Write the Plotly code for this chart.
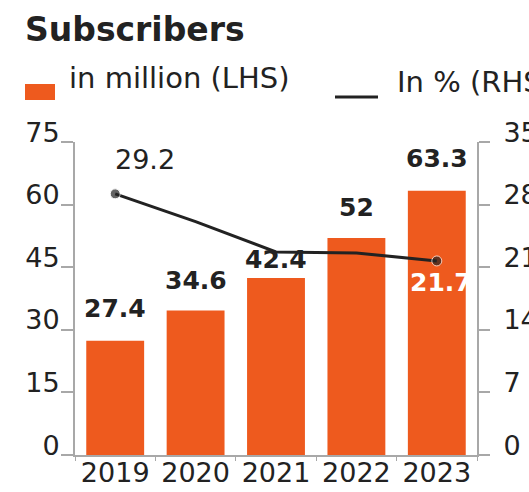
import plotly.graph_objects as go

# Subscriber data
years = ["2019", "2020", "2021", "2022", "2023"]
subscribers_mn = [27.4, 34.6, 42.4, 52, 63.3]
share_pct = [29.2, 26.1, 22.7, 22.6, 21.7]

left_ticks = [0, 15, 30, 45, 60, 75]
right_ticks = [0, 7, 14, 21, 28, 35]

ORANGE = "#EE5A1E"
DARK = "#222222"
AXIS = "#A8A8A8"
FONT = "DejaVu Sans"

# vertical offset (px) of each bar value label above its bar
bar_label_shift = [16, 14, 2, 14, 16]

W, H = 529, 492
L, R, T, B = 75, 52, 142, 37
pw, ph = W - L - R, H - T - B


def px_x(px):
    return (px - L) / pw


def px_y(py):
    return (H - B - py) / ph


fig = go.Figure()

fig.add_trace(go.Bar(
    x=years, y=subscribers_mn, name="in million (LHS)",
    marker=dict(color=ORANGE, line=dict(width=0)),
    yaxis="y", showlegend=False,
))

fig.add_trace(go.Scatter(
    x=years, y=share_pct, name="In % (RHS)", yaxis="y2",
    mode="lines+markers",
    line=dict(color=DARK, width=3),
    marker=dict(color=DARK, size=[10, 0, 0, 0, 10]),
    showlegend=False,
))

annotations = []
# category positions are given by index so the labels sit on their bars
for i, (v, s) in enumerate(zip(subscribers_mn, bar_label_shift)):
    annotations.append(dict(
        x=i, y=v, xref="x", yref="y", text=f"<b>{v:g}</b>",
        showarrow=False, yanchor="bottom", yshift=s,
        font=dict(family=FONT, size=25, color=DARK),
    ))

# first and last percentage labels
last = len(years) - 1
annotations.append(dict(
    x=0, y=share_pct[0], xref="x", yref="y2", text=f"{share_pct[0]:g}",
    showarrow=False, xshift=30, yshift=34,
    font=dict(family=FONT, size=27, color=DARK),
))
annotations.append(dict(
    x=last, y=share_pct[last], xref="x", yref="y2", text=f"<b>{share_pct[last]:g}</b>",
    showarrow=False, xshift=4, yshift=-22,
    font=dict(family=FONT, size=25, color="white"),
))

# legend texts
annotations.append(dict(
    x=px_x(67), y=px_y(78), xref="paper", yref="paper", text="in million (LHS)",
    showarrow=False, xanchor="left", yanchor="middle",
    font=dict(family=FONT, size=29, color=DARK),
))
annotations.append(dict(
    x=px_x(395), y=px_y(82), xref="paper", yref="paper", text="In % (RHS)",
    showarrow=False, xanchor="left", yanchor="middle",
    font=dict(family=FONT, size=29, color=DARK),
))

shapes = [
    dict(type="rect", xref="paper", yref="paper",
         x0=px_x(25), x1=px_x(55), y0=px_y(100), y1=px_y(84),
         fillcolor=ORANGE, line=dict(width=0)),
    dict(type="line", xref="paper", yref="paper",
         x0=px_x(335), x1=px_x(378), y0=px_y(97), y1=px_y(97),
         line=dict(color=DARK, width=3)),
]

fig.update_layout(
    width=W, height=H,
    margin=dict(l=L, r=R, t=T, b=B, pad=0, autoexpand=False),
    paper_bgcolor="white", plot_bgcolor="white",
    bargap=0.28,
    title=dict(
        text="<b>Subscribers</b>", x=25 / W, xref="container", xanchor="left",
        y=1 - 18 / H, yref="container", yanchor="top",
        font=dict(family=FONT, size=33, color=DARK),
        automargin=False,
    ),
    xaxis=dict(
        type="category", categoryorder="array", categoryarray=years,
        range=[-0.5, len(years) - 0.5], automargin=False,
        showline=True, linecolor=AXIS, linewidth=2,
        tickson="boundaries", ticks="outside", ticklen=4, tickcolor=AXIS,
        ticklabelstandoff=-7,
        tickfont=dict(family=FONT, size=27, color=DARK),
        tickangle=0,
        showgrid=False, zeroline=False,
    ),
    yaxis=dict(
        range=[0, 75], tickvals=left_ticks, automargin=False,
        showline=True, linecolor=AXIS, linewidth=2,
        ticks="outside", ticklen=12, tickcolor=AXIS, tickwidth=2,
        ticklabelposition="outside top", ticklabelstandoff=8, ticklabelshift=10,
        tickfont=dict(family=FONT, size=27, color=DARK),
        showgrid=False, zeroline=False,
    ),
    yaxis2=dict(
        range=[0, 35], tickvals=right_ticks, overlaying="y", side="right",
        automargin=False,
        showline=True, linecolor=AXIS, linewidth=2,
        ticks="outside", ticklen=11, tickcolor=AXIS, tickwidth=2,
        ticklabelposition="outside top", ticklabelstandoff=19, ticklabelshift=10,
        tickfont=dict(family=FONT, size=27, color=DARK),
        showgrid=False, zeroline=False,
    ),
    annotations=annotations,
    shapes=shapes,
)

fig.write_html("out.html")
